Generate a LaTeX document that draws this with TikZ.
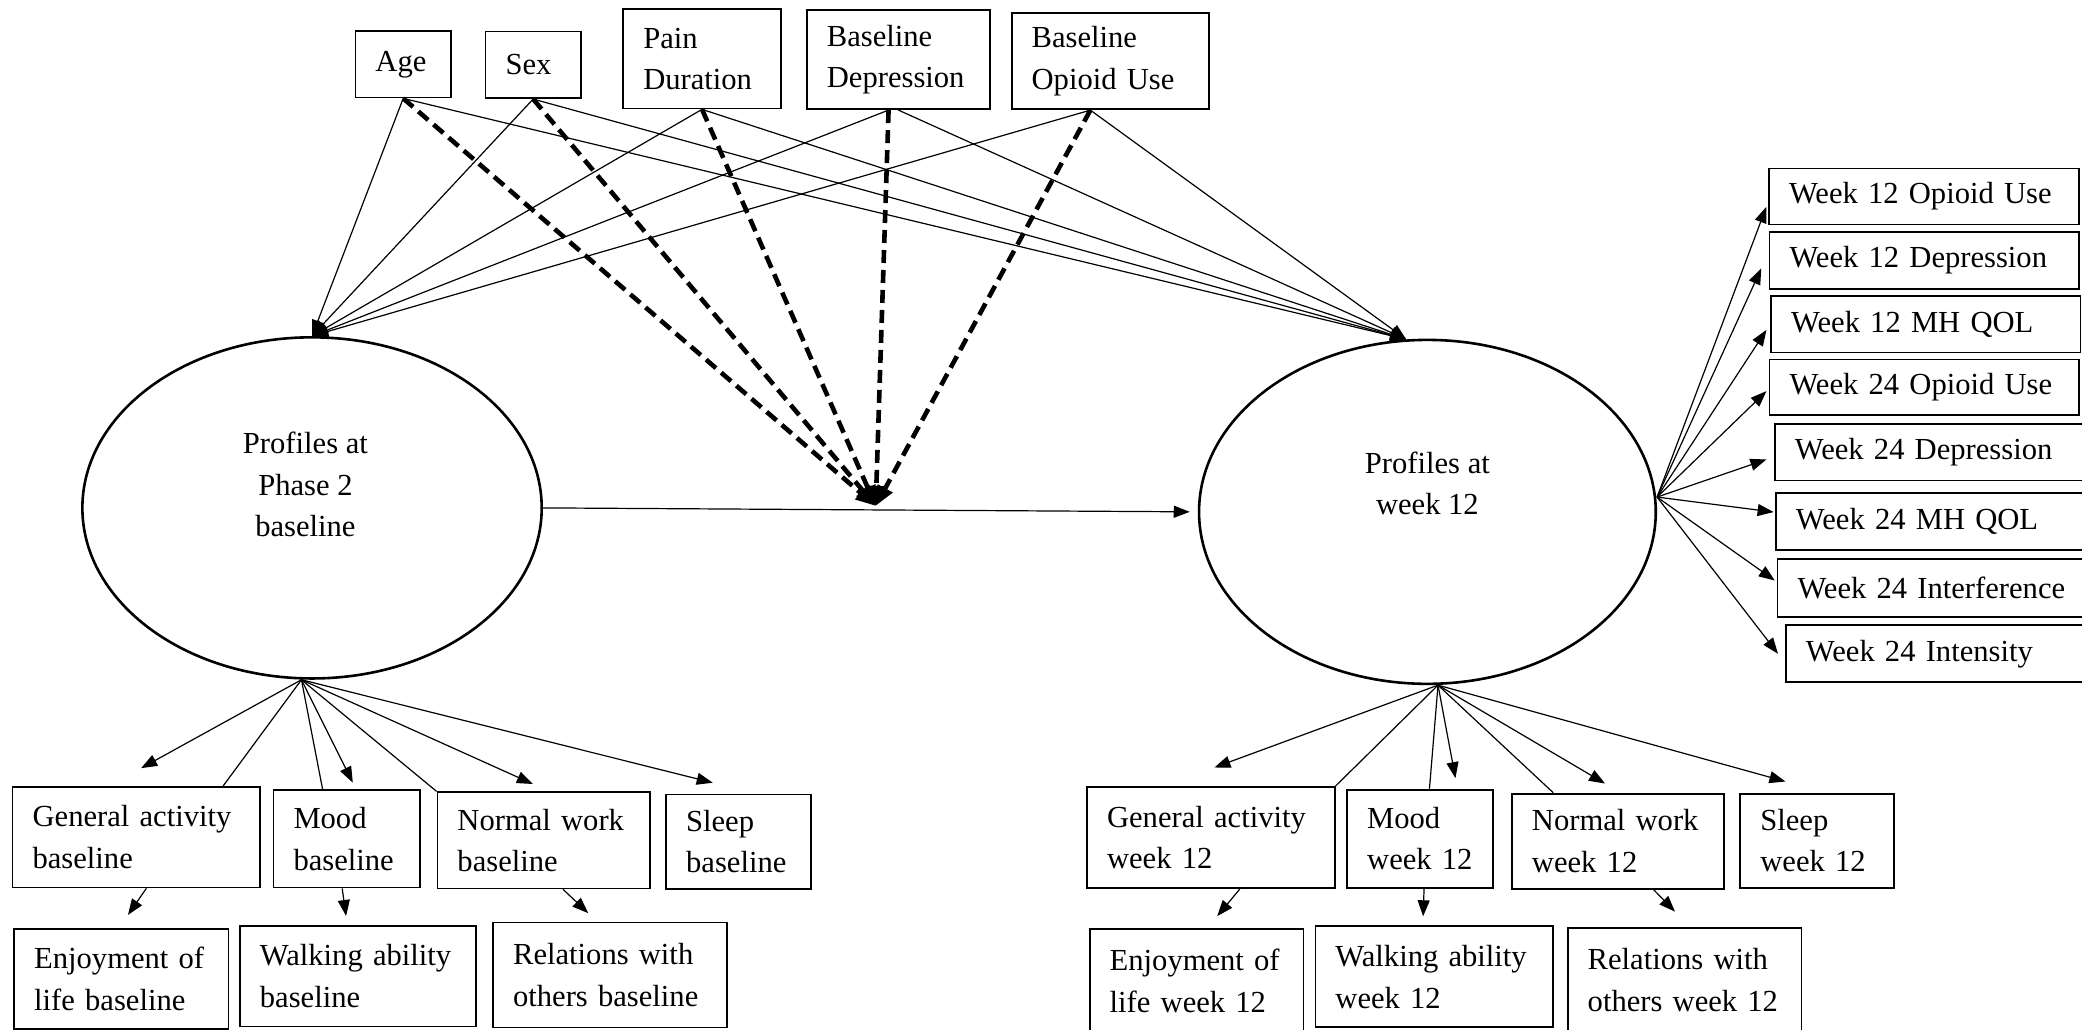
\documentclass[tikz,border=0pt]{standalone}
\usepackage{fontspec}
\setmainfont{Liberation Serif}
\usetikzlibrary{arrows.meta,shapes.geometric}
\hyphenpenalty=10000
\exhyphenpenalty=10000

\begin{document}
\begin{tikzpicture}[x=0.664pt, y=-0.664pt,
	font=\fontsize{15.3}{20.7}\selectfont,
	box/.style={draw, line width=0.9pt, anchor=north west, align=left, inner xsep=10pt, inner ysep=2pt},
	latent/.style={draw, ellipse, line width=1.3pt, inner sep=0pt},
	inlbl/.style={align=center},
	ln/.style={line width=0.6pt},
	arr/.style={line width=0.6pt, -{Triangle[length=8pt,width=6pt]}},
	dasharr/.style={line width=2.3pt, dash pattern=on 6.5pt off 3.5pt, -{Triangle[length=10pt,width=8pt]}}]
	\useasboundingbox (0,0) rectangle (1568,775);

	\node[box, text width=27.8pt, minimum height=33.3pt] (age) at (267,22.6) {Age};
	\node[box, text width=27.6pt, minimum height=33.3pt] (sex) at (365,23.1) {Sex};
	\node[box, text width=58.8pt, minimum height=49.6pt] (pain) at (468.7,6.3) {Pain\\Duration};
	\node[box, text width=71.5pt, minimum height=49.5pt] (bdep) at (607,7) {Baseline\\Depression};
	\node[box, text width=78.5pt, minimum height=48pt] (bopi) at (761.2,9.3) {Baseline\\Opioid Use};

	\node[latent, minimum width=229.7pt, minimum height=170.6pt,
		label={[inlbl, xshift=-3.3pt, yshift=11.6pt]center:Profiles at\\Phase 2\\baseline}] (phase2) at (235,382.5) {};
	\node[latent, minimum width=228.4pt, minimum height=172pt,
		label={[inlbl, yshift=14.3pt]center:Profiles at\\week 12}] (wk12) at (1075,385.5) {};

	\node[box, text width=135pt, minimum height=28pt] (w12o) at (1331.6,126.2) {Week 12 Opioid Use};
	\node[box, text width=134.7pt, minimum height=28.2pt] (w12d) at (1332,174.2) {Week 12 Depression};
	\node[box, text width=134.7pt, minimum height=28.4pt] (w12m) at (1333.2,222) {Week 12 MH QOL};
	\node[box, text width=134.7pt, minimum height=27.6pt] (w24o) at (1332,270.1) {Week 24 Opioid Use};
	\node[box, text width=137pt, minimum height=28.4pt] (w24d) at (1336,318.4) {Week 24 Depression};
	\node[box, text width=137pt, minimum height=28.4pt] (w24m) at (1336.8,370.5) {Week 24 MH QOL};
	\node[box, text width=136pt, minimum height=29pt] (w24i) at (1338,420.1) {Week 24 Interference};
	\node[box, text width=132pt, minimum height=28.4pt] (w24n) at (1344.3,470.3) {Week 24 Intensity};

	\node[box, text width=103.8pt, minimum height=50.3pt] (gab) at (8.8,591.9) {General activity\\baseline};
	\node[box, text width=53.3pt, minimum height=48.7pt] (mb) at (205.3,594.4) {Mood\\baseline};
	\node[box, text width=86.4pt, minimum height=48.1pt] (nwb) at (328.8,596) {Normal work\\baseline};
	\node[box, text width=52.4pt, minimum height=47.1pt] (sb) at (501,597.6) {Sleep\\baseline};
	\node[box, text width=87.2pt, minimum height=49.8pt] (enj) at (10,699) {Enjoyment of\\life baseline};
	\node[box, text width=98.2pt, minimum height=50.3pt] (wab) at (180,696.6) {Walking ability\\baseline};
	\node[box, text width=96.9pt, minimum height=52.5pt] (rob) at (370.7,694) {Relations with\\others baseline};

	\node[box, text width=103.8pt, minimum height=50.7pt] (gaw) at (818,592) {General activity\\week 12};
	\node[box, text width=53.1pt, minimum height=49.1pt] (mw) at (1013.9,594) {Mood\\week 12};
	\node[box, text width=85.9pt, minimum height=47.5pt] (nww) at (1138,597) {Normal work\\week 12};
	\node[box, text width=56.7pt, minimum height=47.1pt] (sw) at (1310,597) {Sleep\\week 12};
	\node[box, text width=86.9pt, minimum height=51.8pt] (enjw) at (820,699) {Enjoyment of\\life week 12};
	\node[box, text width=98.9pt, minimum height=50.5pt] (waw) at (990,697) {Walking ability\\week 12};
	\node[box, text width=96.9pt, minimum height=52.5pt] (rowk) at (1180,698) {Relations with\\others week 12};

	\coordinate (mod) at (659.5,381);
	\coordinate (p2root) at ([xshift=-5.3pt]phase2.south);
	\coordinate (w12root) at ([xshift=5.3pt]wk12.south);
	\coordinate (w12out) at ([yshift=7.4pt]wk12.east);

	\draw[arr] (age.south) -- (phase2.north);
	\draw[arr] (age.south) -- (wk12.97);
	\draw[arr] (sex.south) -- (phase2.north);
	\draw[arr] (sex.south) -- (wk12.97);
	\draw[arr] (pain.south) -- (phase2.north);
	\draw[arr] (pain.south) -- (wk12.97);
	\draw[arr] (bdep.259) -- (phase2.north);
	\draw[arr] (bdep.south) -- (wk12.97);
	\draw[arr] (bopi.248) -- (phase2.north);
	\draw[arr] (bopi.248) -- (wk12.97);

	\draw[dasharr] (age.south) -- (mod);
	\draw[dasharr] (sex.south) -- (mod);
	\draw[dasharr] (pain.south) -- (mod);
	\draw[dasharr] (bdep.259) -- (mod);
	\draw[dasharr] (bopi.248) -- (mod);

	\draw[arr, shorten >=4pt] (phase2.east) -- (wk12.west);

	\draw[arr] (w12out) -- ([xshift=-0.9pt,yshift=-5.2pt]w12o.west);
	\draw[arr] (w12out) -- ([xshift=-3.7pt,yshift=-4pt]w12d.west);
	\draw[arr] (w12out) -- ([xshift=-1.9pt,yshift=-2.9pt]w12m.west);
	\draw[arr] (w12out) -- ([xshift=-1.1pt,yshift=-2pt]w24o.west);
	\draw[arr] (w12out) -- ([xshift=-3.8pt,yshift=-3.7pt]w24d.west);
	\draw[arr] (w12out) -- ([xshift=-0.7pt,yshift=4.6pt]w24m.west);
	\draw[arr] (w12out) -- ([xshift=-0.9pt,yshift=3.6pt]w24i.west);
	\draw[arr] (w12out) -- ([xshift=-3.5pt]w24n.west);

	\draw[arr] (p2root) -- ([xshift=2.4pt,yshift=8.9pt]gab.north);
	\draw[ln] (p2root) -- ([xshift=43.4pt]gab.north);
	\draw[ln] (p2root) -- ([xshift=-12.1pt]mb.north);
	\draw[arr] (p2root) -- ([xshift=3pt,yshift=3.3pt]mb.north);
	\draw[ln] (p2root) -- (nwb.north west);
	\draw[arr] (p2root) -- ([xshift=-5.5pt,yshift=3.7pt]nwb.north);
	\draw[arr] (p2root) -- ([xshift=-12.9pt,yshift=5.4pt]sb.north);
	\draw[arr] ([xshift=5pt]gab.south) -- ([xshift=3.3pt,yshift=6.6pt]enj.north);
	\draw[arr] ([xshift=-2.3pt]mb.south) -- ([xshift=-6pt,yshift=4.5pt]wab.north);
	\draw[arr] ([xshift=9.6pt]nwb.south) -- ([xshift=-10.9pt,yshift=4.2pt]rob.north);

	\draw[arr] (w12root) -- ([xshift=1.8pt,yshift=9.3pt]gaw.north);
	\draw[ln] (w12root) -- (gaw.north east);
	\draw[ln] (w12root) -- ([xshift=4.6pt]mw.north);
	\draw[arr] (w12root) -- ([xshift=17.6pt,yshift=5.3pt]mw.north);
	\draw[ln] (w12root) -- ([xshift=-32.3pt]nww.north);
	\draw[arr] (w12root) -- ([xshift=-6.4pt,yshift=4.6pt]nww.north);
	\draw[arr] (w12root) -- ([xshift=-15.8pt,yshift=5.6pt]sw.north);
	\draw[arr] ([xshift=14.4pt]gaw.south) -- ([xshift=10.3pt,yshift=6pt]enjw.north);
	\draw[arr] ([xshift=1.9pt]mw.south) -- ([xshift=-5.6pt,yshift=4.6pt]waw.north);
	\draw[arr] ([xshift=17.8pt]nww.south) -- ([xshift=-4.8pt,yshift=7.6pt]rowk.north);
\end{tikzpicture}
\end{document}
